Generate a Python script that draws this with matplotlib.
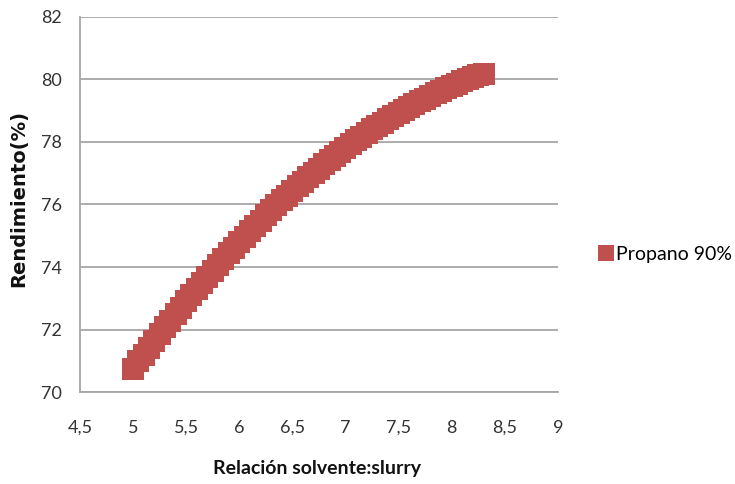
import matplotlib
matplotlib.use("Agg")
import matplotlib.pyplot as plt
from matplotlib.lines import Line2D

# Solvent:slurry ratio and resulting yield (%)
ratio = [5.00, 5.05, 5.10, 5.15, 5.20, 5.25, 5.30, 5.35, 5.40, 5.45,
         5.50, 5.55, 5.60, 5.65, 5.70, 5.75, 5.80, 5.85, 5.90, 5.95,
         6.00, 6.05, 6.10, 6.15, 6.20, 6.25, 6.30, 6.35, 6.40, 6.45,
         6.50, 6.55, 6.60, 6.65, 6.70, 6.75, 6.80, 6.85, 6.90, 6.95,
         7.00, 7.05, 7.10, 7.15, 7.20, 7.25, 7.30, 7.35, 7.40, 7.45,
         7.50, 7.55, 7.60, 7.65, 7.70, 7.75, 7.80, 7.85, 7.90, 7.95,
         8.00, 8.05, 8.10, 8.15, 8.20, 8.25, 8.30]
rendimiento = [70.75, 70.98, 71.20, 71.42, 71.64, 71.86, 72.07, 72.28, 72.49, 72.70,
               72.90, 73.10, 73.30, 73.50, 73.69, 73.88, 74.07, 74.25, 74.44, 74.62,
               74.80, 74.97, 75.14, 75.31, 75.48, 75.65, 75.81, 75.97, 76.13, 76.28,
               76.43, 76.58, 76.73, 76.87, 77.01, 77.15, 77.29, 77.42, 77.55, 77.68,
               77.81, 77.93, 78.05, 78.17, 78.29, 78.40, 78.51, 78.62, 78.73, 78.83,
               78.93, 79.03, 79.12, 79.22, 79.31, 79.39, 79.48, 79.56, 79.64, 79.72,
               79.79, 79.87, 79.94, 80.00, 80.07, 80.13, 80.19]
serie = "Propano 90%"

x_ticks = [4.5, 5, 5.5, 6, 6.5, 7, 7.5, 8, 8.5, 9]
x_ticklabels = ["4,5", "5", "5,5", "6", "6,5", "7", "7,5", "8", "8,5", "9"]
y_ticks = [70, 72, 74, 76, 78, 80, 82]

red = "#C0504D"
grid = "#A6A6A6"
text_color = "#333333"

fig = plt.figure(figsize=(7.35, 4.84), dpi=100)
ax = fig.add_axes([0.1088, 0.19, 0.6502, 0.775])

ax.plot(ratio, rendimiento, linestyle="none", marker="s", markersize=15.5,
        color=red, markeredgecolor=red, markeredgewidth=0)

ax.set_xlim(4.5, 9)
ax.set_ylim(70, 82)
ax.set_xticks(x_ticks)
ax.set_xticklabels(x_ticklabels)
ax.set_yticks(y_ticks)

ax.yaxis.grid(True, color=grid, linewidth=1.3)
ax.set_axisbelow(True)
for side in ("top", "right"):
    ax.spines[side].set_visible(False)
for side in ("left", "bottom"):
    ax.spines[side].set_color(grid)
    ax.spines[side].set_linewidth(1.3)

ax.tick_params(axis="both", length=0, labelsize=13, labelcolor=text_color)
ax.tick_params(axis="x", pad=20)
ax.tick_params(axis="y", pad=13)
for lab in ax.get_xticklabels() + ax.get_yticklabels():
    lab.set_fontfamily("Lato")

ax.set_xlabel("Relación solvente:slurry", fontsize=14, fontweight="bold",
              family="Lato", va="center", color="#111111")
ax.xaxis.set_label_coords(0.495, -0.203)
ax.set_ylabel("Rendimiento(%)", fontsize=14, fontweight="bold",
              family="DejaVu Sans", va="center", color="#111111")
ax.yaxis.set_label_coords(-0.128, 0.515)

handle = Line2D([], [], linestyle="none", marker="s", markersize=11.5,
                color=red, markeredgecolor=red, markeredgewidth=0)
fig.legend([handle], [serie], loc="center left",
           bbox_to_anchor=(0.804, 0.475), frameon=False,
           handlelength=0.6, handletextpad=0.2, borderpad=0,
           prop={"family": "Lato", "size": 14})

fig.savefig("out.png", dpi=100)
